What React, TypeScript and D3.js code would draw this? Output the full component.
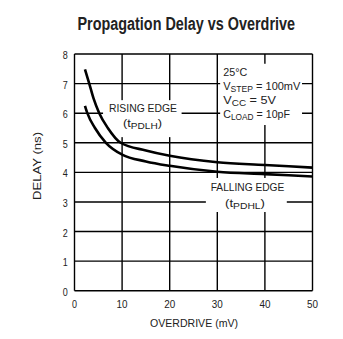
import React from "react";
import * as d3 from "d3";

const W = 343;
const H = 339;

const xTicks = [0, 10, 20, 30, 40, 50];
const yTicks = [0, 1, 2, 3, 4, 5, 6, 7, 8];

const risingX = [2.2, 3.1, 4.0, 5.2, 7.0, 9.7, 15, 20, 30, 40, 50];
const risingY = [7.48, 7.0, 6.5, 6.0, 5.5, 5.0, 4.74, 4.56, 4.34, 4.25, 4.16];

const fallingX = [2.2, 2.7, 4.3, 6.6, 10, 15, 20, 30, 40, 50];
const fallingY = [6.25, 6.0, 5.5, 5.0, 4.6, 4.37, 4.22, 4.02, 3.94, 3.86];

const FONT = "'Liberation Sans', Arial, sans-serif";

export default function App() {
  const x = d3.scaleLinear().domain([0, 50]).range([74.5, 312.5]);
  const y = d3.scaleLinear().domain([0, 8]).range([290.7, 54]);

  const line = d3
    .line<[number, number]>()
    .x((d) => x(d[0]))
    .y((d) => y(d[1]))
    .curve(d3.curveMonotoneX);

  const rising = risingX.map((v, i) => [v, risingY[i]] as [number, number]);
  const falling = fallingX.map((v, i) => [v, fallingY[i]] as [number, number]);

  const textColor = "#222";
  const gridW = 1.4;
  const LA = "spacingAndGlyphs";

  return (
    <svg
      width={W}
      height={H}
      style={{ position: "absolute", left: 0, top: 0, background: "#fff" }}
      fontFamily={FONT}
    >
      <rect x={0} y={0} width={W} height={H} fill="#fff" />
      <text
        x={77.5}
        y={30}
        fontSize={17.5}
        fontWeight="bold"
        fill={textColor}
        textLength={217.5}
        lengthAdjust={LA}
      >
        Propagation Delay vs Overdrive
      </text>

      {/* grid */}
      {xTicks.map((t) => (
        <line
          key={"gx" + t}
          x1={x(t)}
          x2={x(t)}
          y1={y(0)}
          y2={y(8)}
          stroke="#000"
          strokeWidth={gridW}
        />
      ))}
      {yTicks.map((t) => (
        <line
          key={"gy" + t}
          x1={x(0)}
          x2={x(50)}
          y1={y(t)}
          y2={y(t)}
          stroke="#000"
          strokeWidth={gridW}
        />
      ))}

      {/* white label boxes over grid */}
      <rect x={x(6)} y={y(6.44)} width={x(22.5) - x(6)} height={y(5.19) - y(6.44)} fill="#fff" />
      <rect x={x(27.6)} y={y(3.81)} width={x(44.6) - x(27.6)} height={y(2.66) - y(3.81)} fill="#fff" />
      <rect x={x(30.6)} y={y(7.67)} width={x(47.8) - x(30.6)} height={y(5.6) - y(7.67)} fill="#fff" />

      {/* curves */}
      <path d={line(rising) || ""} fill="none" stroke="#000" strokeWidth={2.6} />
      <path d={line(falling) || ""} fill="none" stroke="#000" strokeWidth={2.6} />

      {/* axis tick labels */}
      {xTicks.map((t) => (
        <text
          key={"xl" + t}
          x={x(t) - (String(t).length === 1 ? 2.5 : 5.5)}
          y={307.5}
          fontSize={11}
          fill={textColor}
          textLength={String(t).length === 1 ? 5 : 11}
          lengthAdjust={LA}
        >
          {t}
        </text>
      ))}
      {yTicks.map((t) => (
        <text
          key={"yl" + t}
          x={62.8}
          y={y(t) + 5}
          fontSize={11}
          fill={textColor}
          textLength={5}
          lengthAdjust={LA}
        >
          {t}
        </text>
      ))}

      <text
        x={150}
        y={326.5}
        fontSize={11.5}
        fill={textColor}
        textLength={88}
        lengthAdjust={LA}
      >
        OVERDRIVE (mV)
      </text>
      <text
        transform={`translate(41,200) rotate(-90)`}
        fontSize={11.5}
        fill={textColor}
        textLength={68}
        lengthAdjust={LA}
      >
        DELAY (ns)
      </text>

      {/* annotations */}
      <g fontSize={11.5} fill={textColor}>
        <text x={109} y={112} textLength={68} lengthAdjust={LA}>RISING EDGE</text>
        <text x={123} y={127} textLength={39} lengthAdjust={LA}>
          (t<tspan fontSize={9} dy={2}>PDLH</tspan>
          <tspan dy={-2}>)</tspan>
        </text>
        <text x={210.7} y={191} textLength={73.6} lengthAdjust={LA}>FALLING EDGE</text>
        <text x={225} y={206.5} textLength={40} lengthAdjust={LA}>
          (t<tspan fontSize={9} dy={2}>PDHL</tspan>
          <tspan dy={-2}>)</tspan>
        </text>

        <text x={223.3} y={76} textLength={24} lengthAdjust={LA}>25°C</text>
        <text x={223.3} y={90} textLength={77} lengthAdjust={LA}>
          V<tspan fontSize={9} dy={2}>STEP</tspan>
          <tspan dy={-2}> = 100mV</tspan>
        </text>
        <text x={223.3} y={104} textLength={52.7} lengthAdjust={LA}>
          V<tspan fontSize={9} dy={2}>CC</tspan>
          <tspan dy={-2}> = 5V</tspan>
        </text>
        <text x={223.3} y={117.5} textLength={66.7} lengthAdjust={LA}>
          C<tspan fontSize={9} dy={2}>LOAD</tspan>
          <tspan dy={-2}> = 10pF</tspan>
        </text>
      </g>
    </svg>
  );
}
